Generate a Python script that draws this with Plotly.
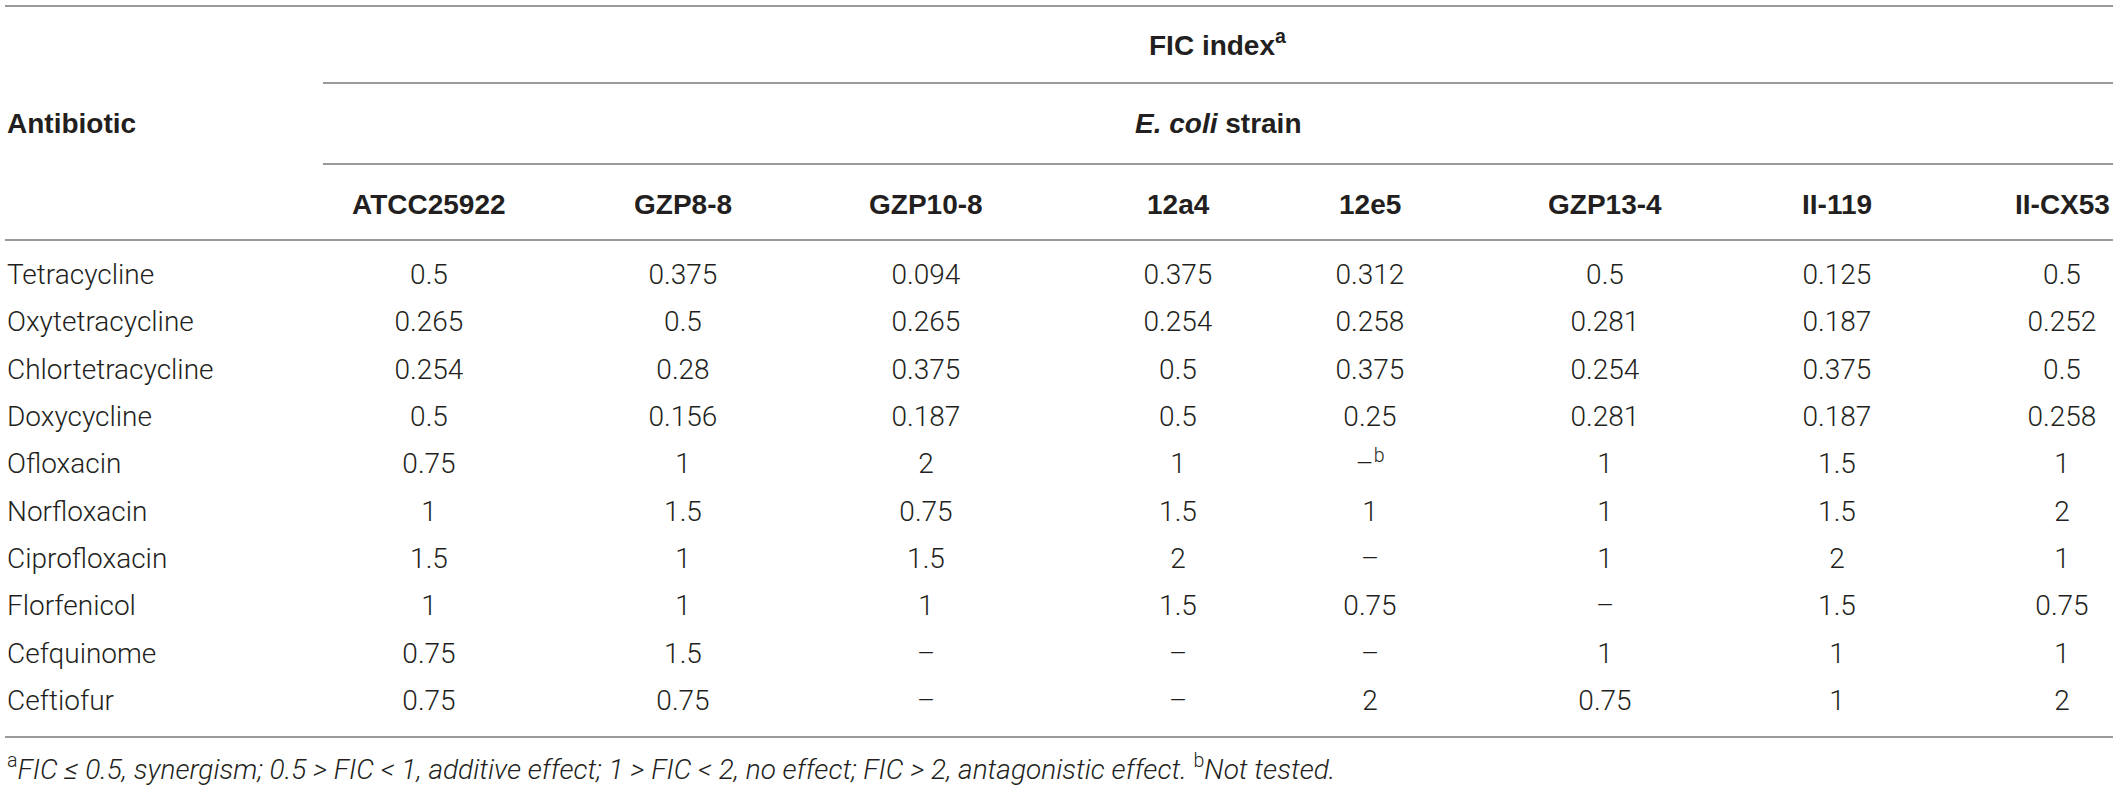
import plotly.graph_objects as go


antibiotics = [ "Tetracycline", "Oxytetracycline", "Chlortetracycline", "Doxycycline", "Ofloxacin",
                "Norfloxacin", "Ciprofloxacin", "Florfenicol", "Cefquinome", "Ceftiofur" ]
strains     = [ "ATCC25922", "GZP8-8", "GZP10-8", "12a4", "12e5", "GZP13-4", "II-119", "II-CX53" ]

# FIC index per strain, one value per antibiotic (None = not tested)
atcc25922   = [ 0.5,   0.265, 0.254, 0.5,   0.75, 1,    1.5,  1,    0.75, 0.75 ]
gzp8_8      = [ 0.375, 0.5,   0.28,  0.156, 1,    1.5,  1,    1,    1.5,  0.75 ]
gzp10_8     = [ 0.094, 0.265, 0.375, 0.187, 2,    0.75, 1.5,  1,    None, None ]
s12a4       = [ 0.375, 0.254, 0.5,   0.5,   1,    1.5,  2,    1.5,  None, None ]
s12e5       = [ 0.312, 0.258, 0.375, 0.25,  None, 1,    None, 0.75, None, 2    ]
gzp13_4     = [ 0.5,   0.281, 0.254, 0.281, 1,    1,    1,    None, 1,    0.75 ]
ii_119      = [ 0.125, 0.187, 0.375, 0.187, 1.5,  1.5,  2,    1.5,  1,    1    ]
ii_cx53     = [ 0.5,   0.252, 0.5,   0.258, 1,    2,    1,    0.75, 1,    2    ]
fic         = [ atcc25922, gzp8_8, gzp10_8, s12a4, s12e5, gzp13_4, ii_119, ii_cx53 ]

note_b      = ( "Ofloxacin", "12e5" )
group_title = "FIC index"
sub_title   = "E. coli"
footnote    = ( "FIC ≤ 0.5, synergism; 0.5 &gt; FIC &lt; 1, additive effect; 1 &gt; FIC &lt; 2, "
                "no effect; FIC &gt; 2, antagonistic effect." )


if __name__ == "__main__":

    W, H        = 2118, 791
    col_x       = [ 429, 683, 926, 1178, 1370, 1605, 1837, 2062 ]
    row_y0      = 277
    row_dy      = 47.33
    rows_y      = [ row_y0 + i * row_dy for i in range(len(antibiotics)) ]
    ink         = "#231f20"
    rule        = "#9a9a9a"
    body_font   = { "family": "Roboto", "size": 28, "color": ink, "weight": 300 }
    head_font   = { "family": "Liberation Sans", "size": 28, "color": ink }

    fig = go.Figure()

    fig.add_trace(
        go.Scatter(
            {
                "x":            [ 7 ] * len(antibiotics),
                "y":            rows_y,
                "text":         antibiotics,
                "mode":         "text",
                "textposition": "middle right",
                "textfont":     body_font,
                "hoverinfo":    "skip"
            }
        )
    )

    for j, strain in enumerate(strains):

        labels = []

        for i, v in enumerate(fic[j]):

            if v is None:

                lab = "–"

                if (antibiotics[i], strain) == note_b:

                    lab = "–<sup>b</sup>"

            else:

                lab = f"{v:g}"

            labels.append(lab)

        fig.add_trace(
            go.Scatter(
                {
                    "x":            [ col_x[j] ] * len(labels),
                    "y":            rows_y,
                    "text":         labels,
                    "mode":         "text",
                    "textposition": "middle center",
                    "textfont":     body_font,
                    "hoverinfo":    "skip"
                }
            )
        )

    # header texts
    fig.add_annotation(x = 5, y = 123, text = "<b>Antibiotic</b>", xanchor = "left",
                       showarrow = False, font = head_font)
    fig.add_annotation(x = 1218, y = 43, text = f"<b>{group_title}<sup>a</sup></b>",
                       showarrow = False, font = head_font)
    fig.add_annotation(x = 1218, y = 123, text = f"<b><i>{sub_title}</i> strain</b>",
                       showarrow = False, font = head_font)

    for j, strain in enumerate(strains):

        fig.add_annotation(x = col_x[j], y = 204, text = f"<b>{strain}</b>",
                           showarrow = False, font = head_font)

    fig.add_annotation(x = 5, y = 767, xanchor = "left", showarrow = False, font = body_font,
                       text = f"<sup>a</sup><i>{footnote}</i> <sup>b</sup><i>Not tested.</i>")

    # horizontal rules
    for x0, y in [ (5, 6), (323, 83), (323, 164), (5, 240), (5, 737) ]:

        fig.add_shape(type = "line", xref = "x", yref = "y", x0 = x0, x1 = 2113, y0 = y, y1 = y,
                      line = { "color": rule, "width": 2 })

    fig.update_layout(
        width         = W,
        height        = H,
        margin        = { "l": 0, "r": 0, "t": 0, "b": 0 },
        paper_bgcolor = "white",
        plot_bgcolor  = "white",
        showlegend    = False,
        xaxis         = { "range": [ 0, W ], "visible": False, "fixedrange": True },
        yaxis         = { "range": [ H, 0 ], "visible": False, "fixedrange": True }
    )

    fig.write_html("out.html", config = { "displayModeBar": False },
                   post_script = "document.body.style.margin = '0';")
